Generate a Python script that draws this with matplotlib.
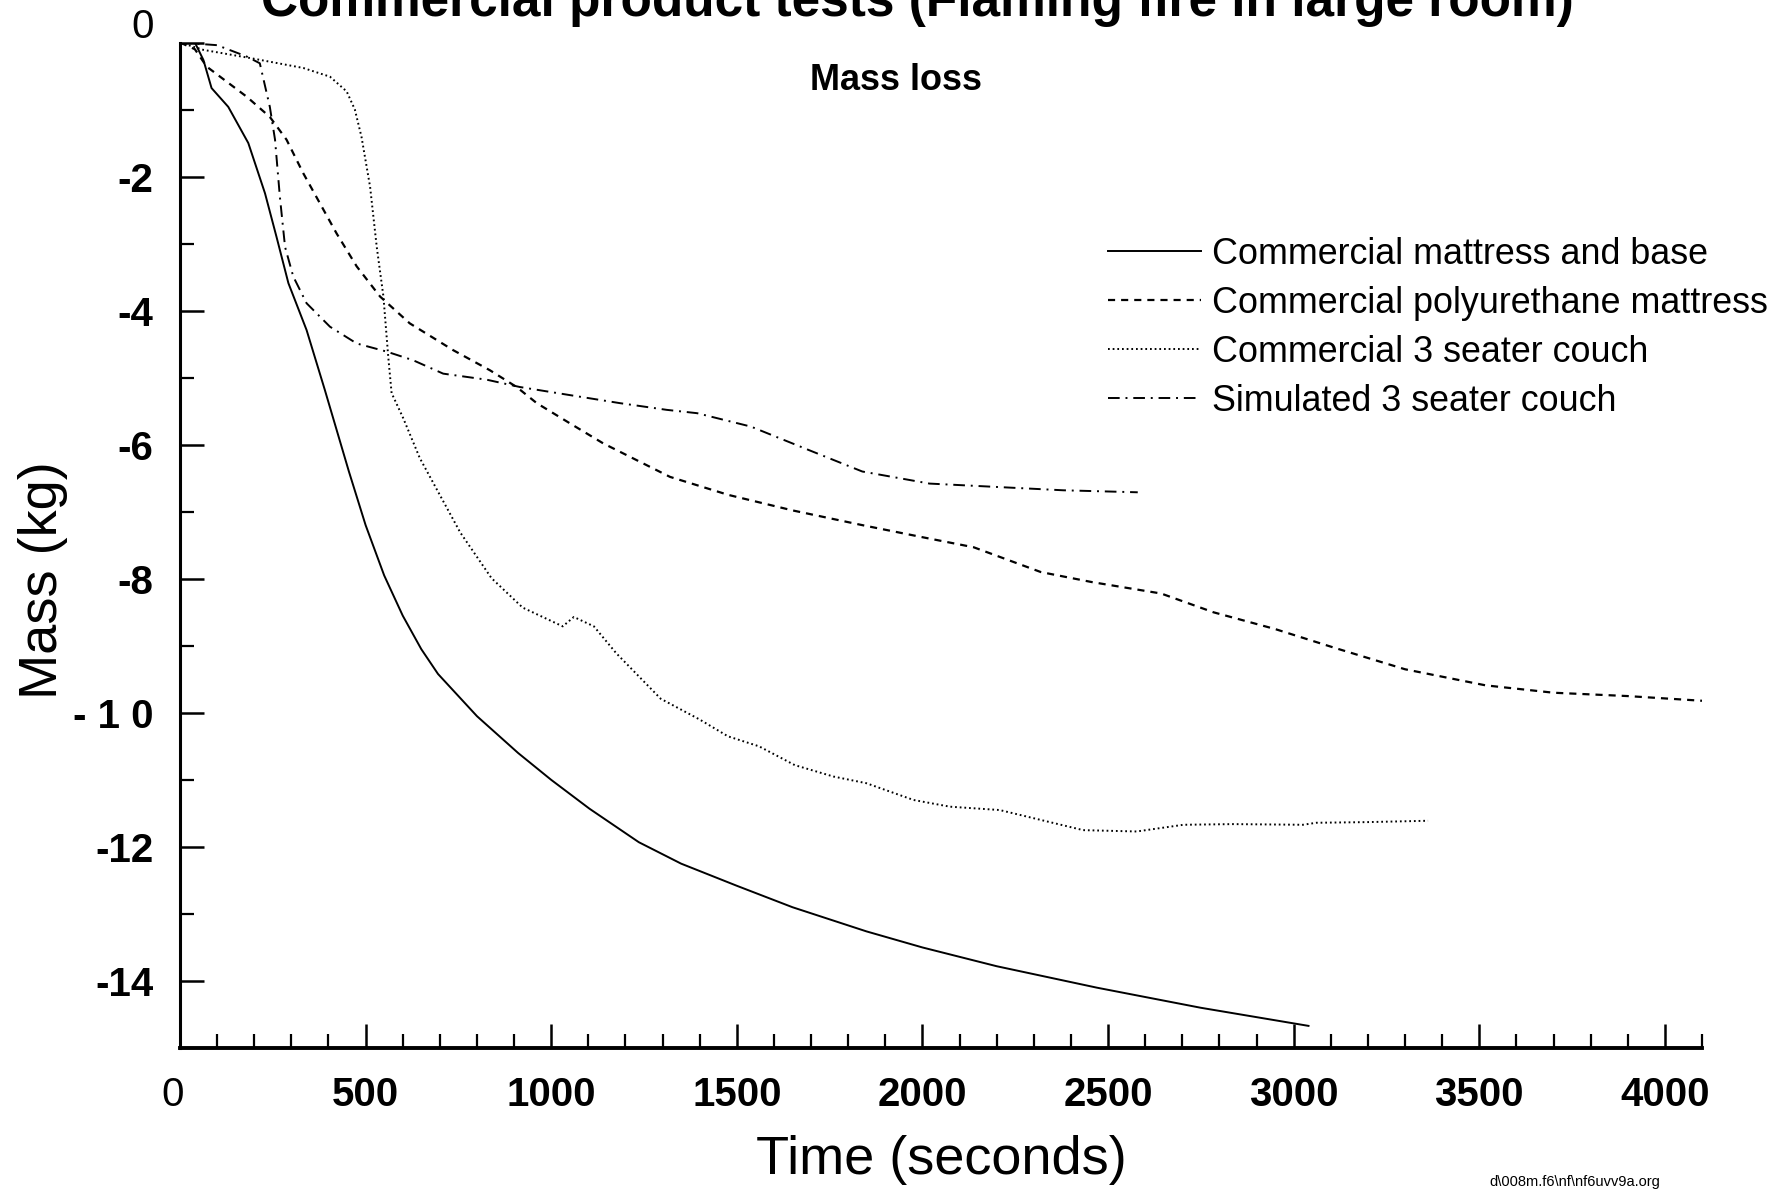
import numpy as np
import matplotlib
matplotlib.use('Agg')
import matplotlib.pyplot as plt
from matplotlib.ticker import MultipleLocator
from matplotlib.transforms import ScaledTranslation

plt.rcParams['font.family'] = ['Liberation Sans', 'DejaVu Sans']

# values: time (s), mass change (kg)
t_base = [0, 40, 63, 85, 130, 184, 229, 260, 292, 341, 390, 455, 500, 550, 600, 650, 695,
          800, 911, 1000, 1103, 1236, 1350, 1500, 1650, 1849, 2000, 2200, 2470, 2750, 3040]
m_base = [0, 0, -0.26, -0.68, -0.96, -1.5, -2.25, -2.9, -3.59, -4.29, -5.18, -6.4, -7.2, -7.95,
          -8.55, -9.05, -9.42, -10.05, -10.6, -11.0, -11.43, -11.93, -12.25, -12.58, -12.9,
          -13.26, -13.5, -13.78, -14.1, -14.4, -14.67]

t_pu = [0, 40, 72, 108, 180, 242, 287, 332, 377, 422, 476, 539, 619, 736, 835, 907, 961, 1050,
        1140, 1248, 1320, 1478, 1650, 1838, 2000, 2138, 2319, 2457, 2643, 2784, 2950, 3110,
        3300, 3517, 3700, 3900, 4100]
m_pu = [0, -0.1, -0.36, -0.51, -0.81, -1.11, -1.45, -1.95, -2.4, -2.85, -3.34, -3.79, -4.19,
        -4.59, -4.89, -5.14, -5.38, -5.68, -5.98, -6.28, -6.48, -6.75, -6.98, -7.2, -7.38,
        -7.53, -7.9, -8.05, -8.22, -8.5, -8.75, -9.03, -9.35, -9.59, -9.7, -9.75, -9.82]

t_couch = [0, 63, 197, 332, 404, 449, 471, 489, 512, 530, 548, 561, 570, 601, 646, 695, 755,
           839, 923, 1031, 1061, 1115, 1175, 1295, 1400, 1476, 1560, 1656, 1760, 1849, 1976,
           2074, 2208, 2298, 2433, 2577, 2703, 2837, 3025, 3061, 3200, 3362]
m_couch = [0, -0.11, -0.24, -0.38, -0.51, -0.73, -1.0, -1.41, -2.15, -3.05, -3.79, -4.69,
           -5.23, -5.6, -6.2, -6.7, -7.31, -7.99, -8.43, -8.71, -8.57, -8.71, -9.11, -9.79,
           -10.1, -10.35, -10.5, -10.78, -10.95, -11.05, -11.3, -11.4, -11.45, -11.57, -11.75,
           -11.77, -11.67, -11.66, -11.67, -11.64, -11.63, -11.61]

t_sim = [0, 100, 180, 215, 242, 256, 269, 283, 305, 341, 404, 476, 556, 628, 709, 826, 916,
         1050, 1185, 1311, 1393, 1538, 1694, 1838, 2019, 2199, 2379, 2580]
m_sim = [0, -0.04, -0.21, -0.31, -0.96, -1.45, -2.3, -3.05, -3.49, -3.89, -4.24, -4.49, -4.61,
         -4.74, -4.94, -5.03, -5.14, -5.26, -5.38, -5.48, -5.53, -5.73, -6.08, -6.4, -6.58,
         -6.63, -6.68, -6.71]

labels = ['Commercial mattress and base', 'Commercial polyurethane mattress',
          'Commercial 3 seater couch', 'Simulated 3 seater couch']

xticks = [0, 500, 1000, 1500, 2000, 2500, 3000, 3500, 4000]
xticklabels = ['0', '500', '1000', '1500', '2000', '2500', '3000', '3500', '4000']
yticks = [0, -2, -4, -6, -8, -10, -12, -14]
yticklabels = ['0', '-2', '-4', '-6', '-8', '- 1 0', '-12', '-14']

fig = plt.figure(figsize=(17.91, 11.99), dpi=100)
ax = fig.add_axes([180 / 1791, 1 - 1048 / 1199, 1522 / 1791, 1005.5 / 1199])

ax.plot(t_base, m_base, color='black', lw=1.4, ls='-', label=labels[0])
ax.plot(t_pu, m_pu, color='black', lw=1.6, ls=(0, (3.2, 2.7)), label=labels[1])
ax.plot(t_couch, m_couch, color='black', lw=1.4, ls=(0, (0.9, 1.5)), label=labels[2])
ax.plot(t_sim, m_sim, color='black', lw=1.4, ls=(0, (6, 3, 1, 3)), label=labels[3])

ax.set_xlim(0, 4100)
ax.set_ylim(-15, 0)

for s in ['top', 'right']:
    ax.spines[s].set_visible(False)
ax.spines['left'].set_linewidth(2.2)
ax.spines['bottom'].set_linewidth(2.8)

ax.set_xticks(xticks)
ax.set_xticklabels(xticklabels)
ax.set_yticks(yticks)
ax.set_yticklabels(yticklabels)
ax.xaxis.set_minor_locator(MultipleLocator(100))
ax.yaxis.set_minor_locator(MultipleLocator(1))

ax.tick_params(axis='x', which='major', direction='in', length=17, width=1.8,
               labelsize=29, pad=20)
ax.tick_params(axis='y', which='major', direction='in', length=17, width=1.8,
               labelsize=29, pad=19)
ax.tick_params(which='minor', direction='in', length=10, width=1.6)

for lbl in ax.get_xticklabels() + ax.get_yticklabels():
    lbl.set_fontweight('bold')

# the zero labels are plain and sit a bit off
xt0 = ax.xaxis.get_major_ticks()[0].label1
xt0.set_fontweight('normal')
xt0.set_transform(xt0.get_transform() + ScaledTranslation(-5 / 72, 0, fig.dpi_scale_trans))
yt0 = ax.yaxis.get_major_ticks()[0].label1
yt0.set_fontweight('normal')
yt0.set_transform(yt0.get_transform() + ScaledTranslation(0, 14 / 72, fig.dpi_scale_trans))

ax.set_xlabel('Time (seconds)', fontsize=39)
ax.xaxis.set_label_coords(0.5, -0.0865)
ax.set_ylabel('Mass (kg)', fontsize=39)
ax.yaxis.set_label_coords(-0.0733, 0.465)

ax.legend(loc='upper left', bbox_to_anchor=(1108 / 1791, 1 - 237 / 1199),
          bbox_transform=fig.transFigure, frameon=False, fontsize=25.8,
          handlelength=2.6, handletextpad=0.3, labelspacing=0.39,
          borderpad=0, borderaxespad=0)

fig.text(895.5 / 1791, 1 - 81 / 1199, 'Mass loss', ha='center', va='center',
         fontsize=26, fontweight='bold')
fig.text(917 / 1791, 1 - 16 / 1199, 'Commercial product tests (Flaming fire in large room)',
         ha='center', va='baseline', fontsize=37, fontweight='bold')
fig.text(1575 / 1791, 1 - 1182 / 1199, r'd\008m.f6\nf\nf6uvv9a.org', ha='center',
         va='center', fontsize=10.5)

fig.savefig('out.png', dpi=100)
